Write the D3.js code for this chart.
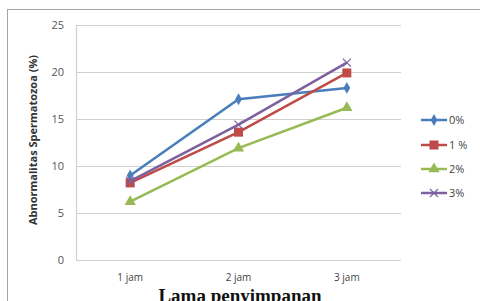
<!DOCTYPE html>
<html>
<head>
<meta charset="utf-8">
<script src="https://cdn.jsdelivr.net/npm/d3@7"></script>
<style>
body { margin: 0; background: #fff; }
</style>
</head>
<body>
<div id="chart"></div>
<script>
// data
var categories = ["1 jam", "2 jam", "3 jam"];
var seriesNames = ["0%", "1 %", "2%", "3%"];
var s0 = [9.0, 17.1, 18.3];
var s1 = [8.2, 13.6, 19.9];
var s2 = [6.2, 11.9, 16.2];
var s3 = [8.4, 14.4, 21.0];
var yTicks = [0, 5, 10, 15, 20, 25];

var colors = ["#4a7ebb", "#be4b48", "#98b954", "#7d60a0"];
var shapes = ["diamond", "square", "triangle", "x"];
var allSeries = [s0, s1, s2, s3];

var width = 480, height = 301;
var plot = { left: 76, right: 401, top: 25, bottom: 260 };

var svg = d3.select("#chart")
    .append("svg")
    .attr("width", width)
    .attr("height", height);

// outer chart frame
svg.append("rect")
    .attr("x", 7.5).attr("y", 9.5)
    .attr("width", 480).attr("height", 320)
    .attr("fill", "none")
    .attr("stroke", "#a6a6a6")
    .attr("stroke-width", 1);

var x = d3.scaleBand()
    .domain(categories)
    .range([plot.left, plot.right]);

var y = d3.scaleLinear()
    .domain([0, 25])
    .range([plot.bottom, plot.top]);

// gridlines
svg.append("g")
    .selectAll("line")
    .data(yTicks)
    .join("line")
    .attr("x1", plot.left)
    .attr("x2", plot.right)
    .attr("y1", function(d) { return Math.round(y(d)) + 0.5; })
    .attr("y2", function(d) { return Math.round(y(d)) + 0.5; })
    .attr("stroke", "#d0d0d0")
    .attr("stroke-width", 1.2);

// left axis line
svg.append("line")
    .attr("x1", plot.left + 0.5).attr("x2", plot.left + 0.5)
    .attr("y1", plot.top).attr("y2", plot.bottom)
    .attr("stroke", "#d0d0d0").attr("stroke-width", 1.2);

// y tick labels
var yAxis = d3.axisLeft(y).tickValues(yTicks).tickSize(0).tickPadding(12);
var gy = svg.append("g")
    .attr("transform", "translate(" + plot.left + ",0)")
    .call(yAxis);
gy.select(".domain").remove();
gy.selectAll("text")
    .attr("font-family", "Open Sans, sans-serif")
    .attr("font-size", 11)
    .attr("fill", "#555");

// x tick labels
var xAxis = d3.axisBottom(x).tickSize(0).tickPadding(14);
var gx = svg.append("g")
    .attr("transform", "translate(0," + plot.bottom + ")")
    .call(xAxis);
gx.select(".domain").remove();
gx.selectAll("text")
    .attr("font-family", "Open Sans, sans-serif")
    .attr("font-size", 10)
    .attr("fill", "#444");

// axis titles
svg.append("text")
    .attr("transform", "translate(37,140) rotate(-90)")
    .attr("text-anchor", "middle")
    .attr("font-family", "Open Sans, sans-serif")
    .attr("font-weight", "bold")
    .attr("font-size", 11)
    .attr("fill", "#333")
    .text("Abnormalitas Spermatozoa (%)");

// title sits at the bottom and is clipped by the picture edge, as in the source
svg.append("text")
    .attr("x", 240).attr("y", 302)
    .attr("text-anchor", "middle")
    .attr("font-family", "Liberation Serif, Times New Roman, serif")
    .attr("font-weight", "bold")
    .attr("font-size", 19)
    .attr("fill", "#111")
    .text("Lama penyimpanan");

function drawMarker(g, shape, color, cx, cy) {
    if (shape == "diamond") {
        g.append("path")
            .attr("d", d3.symbol(d3.symbolDiamond, 40)())
            .attr("transform", "translate(" + cx + "," + cy + ")")
            .attr("fill", color);
    } else if (shape == "square") {
        g.append("rect")
            .attr("x", cx - 4.5).attr("y", cy - 4.5)
            .attr("width", 9).attr("height", 9)
            .attr("fill", color);
    } else if (shape == "triangle") {
        g.append("path")
            .attr("d", d3.symbol(d3.symbolTriangle, 55)())
            .attr("transform", "translate(" + cx + "," + cy + ")")
            .attr("fill", color);
    } else {
        g.append("path")
            .attr("d", "M-4,-4L4,4M-4,4L4,-4")
            .attr("transform", "translate(" + cx + "," + cy + ")")
            .attr("stroke", color)
            .attr("stroke-width", 1.2)
            .attr("fill", "none");
    }
}

var line = d3.line()
    .x(function(d, i) { return x(categories[i]) + x.bandwidth() / 2; })
    .y(function(d) { return y(d); });

for (var s = 0; s < allSeries.length; s++) {
    var g = svg.append("g");
    g.append("path")
        .datum(allSeries[s])
        .attr("d", line)
        .attr("fill", "none")
        .attr("stroke", colors[s])
        .attr("stroke-width", 2.5);
    for (var i = 0; i < categories.length; i++) {
        drawMarker(g, shapes[s], colors[s],
            x(categories[i]) + x.bandwidth() / 2, y(allSeries[s][i]));
    }
}

// legend
var legendY = [120, 145, 169, 193];
for (var s = 0; s < seriesNames.length; s++) {
    var lg = svg.append("g");
    lg.append("line")
        .attr("x1", 421).attr("x2", 447)
        .attr("y1", legendY[s]).attr("y2", legendY[s])
        .attr("stroke", colors[s])
        .attr("stroke-width", 2.5);
    drawMarker(lg, shapes[s], colors[s], 434, legendY[s]);
    lg.append("text")
        .attr("x", 449).attr("y", legendY[s] + 4)
        .attr("font-family", "Open Sans, sans-serif")
        .attr("font-size", 11)
        .attr("fill", "#444")
        .text(seriesNames[s]);
}
</script>
</body>
</html>
